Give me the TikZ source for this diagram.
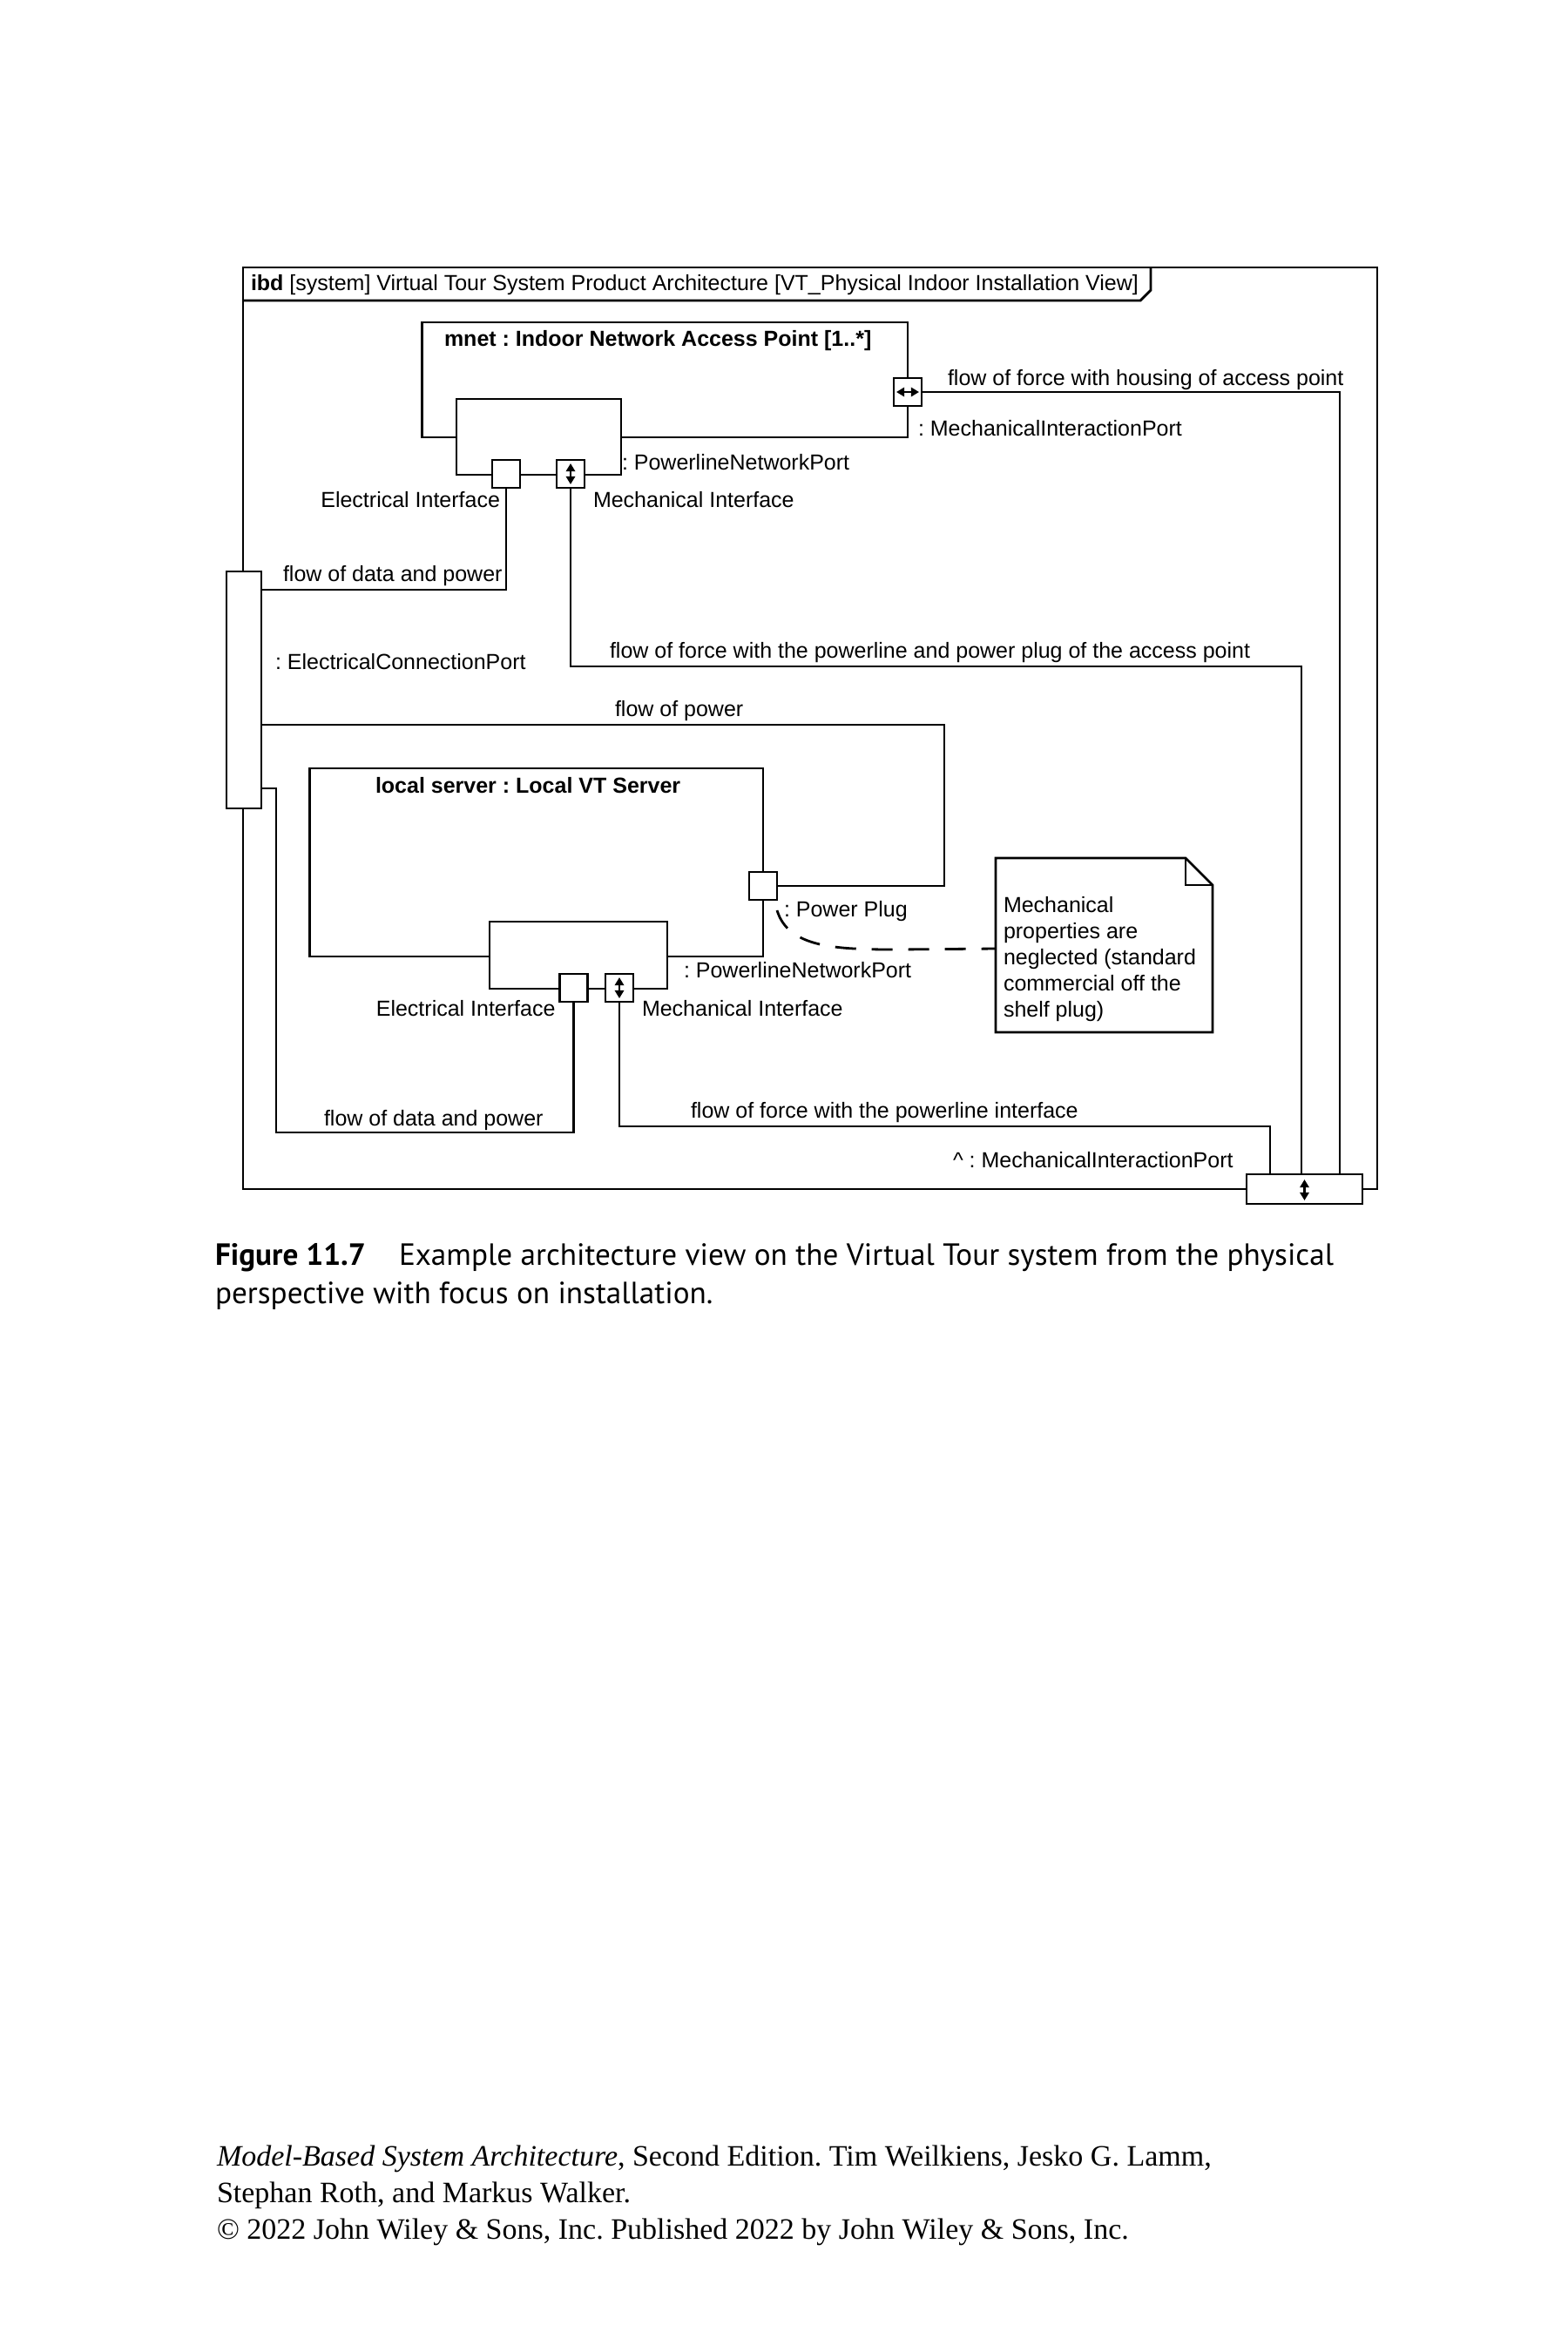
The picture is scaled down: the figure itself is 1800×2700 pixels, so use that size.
\documentclass[tikz,border=0pt]{standalone}
\usepackage{fontspec}
\setmainfont{Liberation Sans}
\newfontfamily\ptsansfont{PT Sans}
\newfontfamily\libseriffont{Liberation Serif}
\usetikzlibrary{arrows.meta,fit}
\newcommand\diagfont{\fontsize{12.5}{15}\selectfont}
\frenchspacing
\begin{document}
\frenchspacing
\begin{tikzpicture}[x=0.5pt,y=-0.5pt,
  every node/.style={inner sep=0pt, outer sep=0pt},
  ln/.style={line width=1.4pt},
  box/.style={draw, line width=1.4pt, fill=white, inner sep=0pt},
  port/.style={draw, line width=1.4pt, fill=white, minimum size=16pt, inner sep=0pt},
  lbl/.style={font=\diagfont, anchor=base west},
  lblr/.style={font=\diagfont, anchor=base east},
  ttl/.style={font=\diagfont\bfseries, anchor=base west},
  tip/.style={line width=1.1pt, {Triangle[width=5.2pt,length=4.6pt]}-{Triangle[width=5.2pt,length=4.6pt]}},
  dashline/.style={line width=1.4pt, dash pattern=on 12pt off 9pt}
]
\fill[white] (0,0) rectangle (1800,2700);
\useasboundingbox (0,0) rectangle (1800,2700);

% frame
\node[box, fill=none, fit={(279,307) (1581,1365)}] (frame) {};
\draw[ln] (279,345) -- (1309,345) -- (1321,333) -- (1321,307);
\node[lbl] (title) at (288,333) {\textbf{ibd} [system] Virtual Tour System Product Architecture [VT\_Physical Indoor Installation View]};

% mnet
\node[box, fit={(484.5,370) (1042,502)}] (mnet) {};
\node[ttl] (mnett) at (510,397) {mnet : Indoor Network Access Point [1..*]};
\node[box, fit={(524,458) (713,545)}] (pnp1) {};
\node[port] (ep1) at (581,544) {};
\node[port] (mi1) at (655,544) {};
\draw[tip] ([yshift=6pt]mi1.center) -- ([yshift=-6pt]mi1.center);
\node[port] (mp1) at (1042,450) {};
\draw[tip] ([xshift=-6.5pt]mp1.center) -- ([xshift=6.5pt]mp1.center);

% local server
\node[box, fit={(355.5,882) (876,1098)}] (ls) {};
\node[ttl] (lst) at (431,910) {local server : Local VT Server};
\node[box, fit={(562,1058) (766,1135)}] (pnp2) {};
\node[port] (ep2) at (658.5,1134) {};
\node[port] (mi2) at (711,1134) {};
\draw[tip] ([yshift=6pt]mi2.center) -- ([yshift=-6pt]mi2.center);
\node[port] (pp) at (876,1017) {};

% boundary ports
\node[box, fit={(260,656) (300,928)}] (ecp) {};
\node[box, fit={(1431,1348) (1564,1382)}] (bp) {};
\draw[tip] ([yshift=5.5pt]bp.center) -- ([yshift=-6.5pt]bp.center);

% connectors
\draw[ln] (mp1.east) -| (bp.north -| 1538,0);
\draw[ln] (ep1.south) |- (ecp.east |- 0,677);
\draw[ln] (mi1.south) |- (1494,765) -- (bp.north -| 1494,0);
\draw[ln] (pp.east) -| (1084,832) -- (ecp.east |- 0,832);
\draw[ln] (ep2.south) |- (317,1300) |- (ecp.east |- 0,905);
\draw[ln] (mi2.south) |- (1458,1293) -- (bp.north -| 1458,0);

% note
\node[fit={(1143,985) (1392,1185)}] (note) {};
\draw[ln, fill=white] (note.north west) -- (1361,985) -- (1392,1016) -- (note.south east) -- (note.south west) -- cycle;
\draw[ln] (1361,985) -- (1361,1016) -- (1392,1016);
\foreach \t [count=\i from 0] in {Mechanical,properties are,neglected (standard,commercial off the,shelf plug)}
  \node[lbl] (note\i) at (1152,1047+30*\i) {\t};
\draw[dashline] ([yshift=-6pt]pp.south east) .. controls (905,1088) and (960,1090) .. (1030,1090) -- (note.west |- 0,1089);

% labels
\node[lbl] (l1) at (714,539) {: PowerlineNetworkPort};
\node[lblr] (l2) at (574,582) {Electrical Interface};
\node[lbl] (l3) at (681,582) {Mechanical Interface};
\node[lbl] (l4) at (1088,442) {flow of force with housing of access point};
\node[lbl] (l5) at (1054,500) {: MechanicalInteractionPort};
\node[lbl] (l6) at (325,667) {flow of data and power};
\node[lbl] (l7) at (316,768) {: ElectricalConnectionPort};
\node[lbl] (l8) at (700,755) {flow of force with the powerline and power plug of the access point};
\node[lbl] (l9) at (706,822) {flow of power};
\node[lbl] (l10) at (900,1052) {: Power Plug};
\node[lbl] (l11) at (785,1122) {: PowerlineNetworkPort};
\node[lblr] (l12) at (637.5,1166) {Electrical Interface};
\node[lbl] (l13) at (737,1166) {Mechanical Interface};
\node[lbl] (l14) at (372,1292) {flow of data and power};
\node[lbl] (l15) at (793,1283) {flow of force with the powerline interface};
\node[lbl] (l16) at (1094,1340) {\textasciicircum\ : MechanicalInteractionPort};

% caption
\node[anchor=base west, font=\ptsansfont\fontsize{17.6}{23}\selectfont\bfseries] (capfig) at (247,1452) {Figure 11.7};
\node[anchor=base west, font=\ptsansfont\fontsize{17.6}{23}\selectfont] (cap1) at (458,1452) {Example architecture view on the Virtual Tour system from the physical};
\node[anchor=base west, font=\ptsansfont\fontsize{17.6}{23}\selectfont] (cap2) at (247,1496) {perspective with focus on installation.};

% footer
\node[anchor=base west, font=\libseriffont\fontsize{17}{21}\selectfont] (ft1) at (249,2486) {\textit{Model-Based System Architecture}, Second Edition. Tim Weilkiens, Jesko G. Lamm,};
\node[anchor=base west, font=\libseriffont\fontsize{17}{21}\selectfont] (ft2) at (249,2528) {Stephan Roth, and Markus Walker.};
\node[anchor=base west, font=\libseriffont\fontsize{17}{21}\selectfont] (ft3) at (249,2570) {© 2022 John Wiley \& Sons, Inc. Published 2022 by John Wiley \& Sons, Inc.};
\end{tikzpicture}
\end{document}
